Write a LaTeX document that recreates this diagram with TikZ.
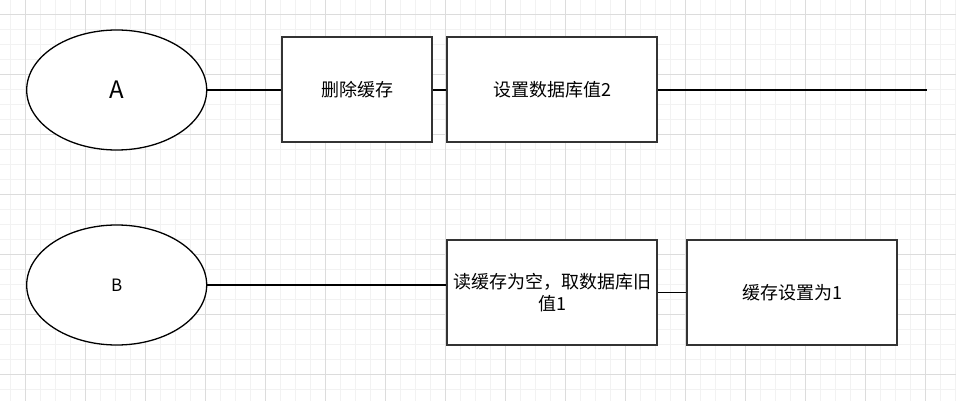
\documentclass[tikz,border=0pt]{standalone}
\usepackage{fontspec}
\newfontfamily\cjk{Noto Sans CJK SC}
\usetikzlibrary{shapes.geometric}
\definecolor{gridmajor}{HTML}{DCDCDC}
\definecolor{gridminor}{HTML}{F2F2F2}
\definecolor{boxline}{HTML}{333333}
\tikzset{
  minorgrid/.style={draw=gridminor, line width=0.8pt},
  majorgrid/.style={draw=gridmajor, line width=0.8pt},
  actor/.style={ellipse, draw=black, line width=1.3pt, fill=white, minimum width=180pt, minimum height=120pt, inner sep=0pt, font=\cjk},
  stepbox/.style={rectangle, draw=boxline, line width=2pt, fill=white, minimum height=105pt, inner sep=0pt, font=\cjk\fontsize{18}{22}\selectfont, align=center},
  link/.style={draw=black, line width=1.5pt}
}
\begin{document}
\begin{tikzpicture}[x=1pt,y=-1pt]
\useasboundingbox (0,0) rectangle (956,401);
\fill[white] (0,0) rectangle (956,401);
% grid
\foreach \i in {0,...,63} \draw[minorgrid] ({10.7+15*\i},0) -- ({10.7+15*\i},401);
\foreach \j in {0,...,27} \draw[minorgrid] (0,{-0.7+15*\j}) -- (956,{-0.7+15*\j});
\foreach \i in {0,...,15} \draw[majorgrid] ({25.7+60*\i},0) -- ({25.7+60*\i},401);
\foreach \j in {0,...,6} \draw[majorgrid] (0,{14.3+60*\j}) -- (956,{14.3+60*\j});
% nodes
\node[actor, font=\cjk\fontsize{24}{28}\selectfont] (A) at (116.7,90) {A};
\node[actor, font=\cjk\fontsize{17}{20}\selectfont] (B) at (116.7,285) {B};
\node[stepbox, minimum width=150pt] (del) at (357,90) {删除缓存};
\node[stepbox, minimum width=210pt] (setdb) at (552,90) {设置数据库值2};
\node[stepbox, minimum width=210pt] (read) at (552,292.7) {读缓存为空，取数据库旧\\值1};
\node[stepbox, minimum width=210pt] (setc) at (792,292.7) {缓存设置为1};
\coordinate (endA) at (927,90);
% connectors
\draw[link] (A.east) -- (del.west);
\draw[link] (del.east) -- (setdb.west);
\draw[link] (setdb.east) -- (endA);
\draw[link] (B.east) -- (B.east -| read.west);
\draw[link] (read.east) -- (setc.west);
\end{tikzpicture}
\end{document}
